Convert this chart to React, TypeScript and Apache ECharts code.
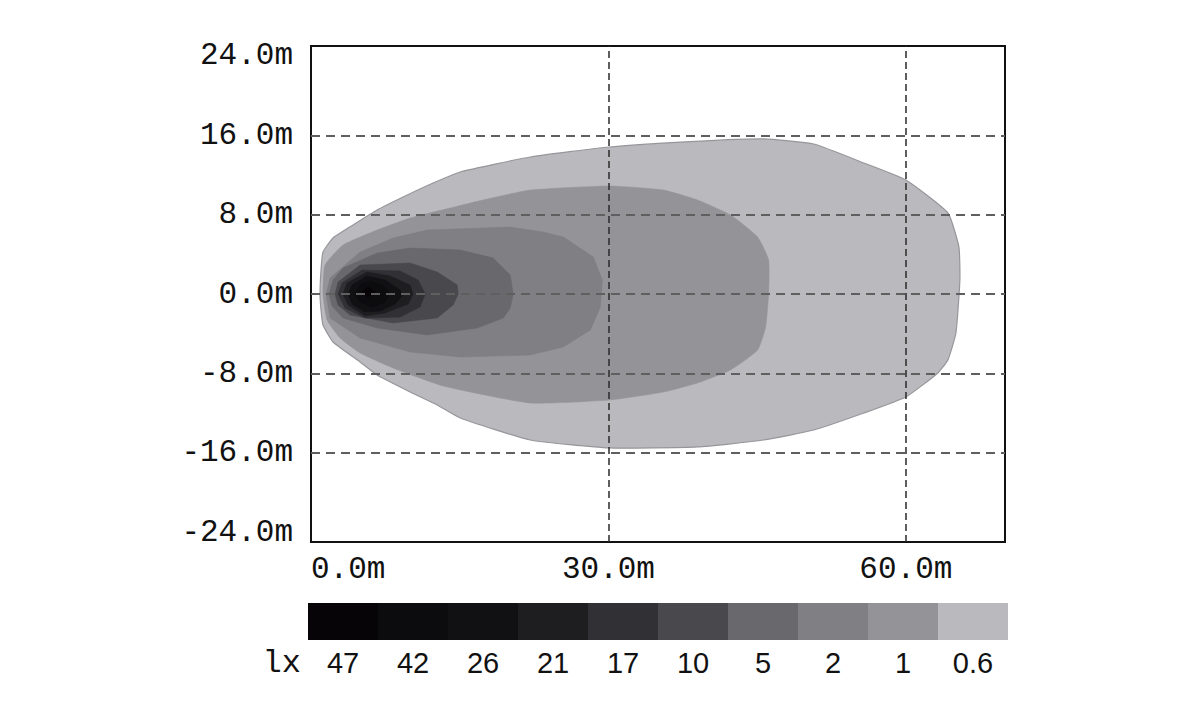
import React, { useEffect, useRef } from "react";
import * as echarts from "echarts";

// Axis ticks
const xTickValues = [0, 30, 60];
const yTickValues = [-24, -16, -8, 0, 8, 16, 24];
const gridLinesY = [-16, -8, 0, 8, 16];
const gridLinesX = [30, 60];

// Legend (colour scale)
const luxLabels = ["47", "42", "26", "21", "17", "10", "5", "2", "1", "0.6"];
const luxColors = [
  "#060406", "#0c0b0e", "#111114", "#1e1e21", "#303035",
  "#48484d", "#68686d", "#7f7f84", "#949398", "#bab9be",
];

// Isolux contours, [distance m, lateral m]
const contour06: number[][] = [
  [0.91, 0], [1.01, 2.42], [1.21, 4.23], [2.22, 5.65], [4.24, 6.96], [6.67, 8.47],
  [9.29, 9.78], [12.32, 11.19], [15.05, 12.3], [22.12, 13.81], [30.1, 14.82],
  [39.29, 15.42], [45.66, 15.63], [50.71, 15.12], [55.76, 13.21], [60.0, 11.49],
  [64.24, 8.17], [65.35, 4.74], [65.45, 1.41], [65.05, -3.93], [64.24, -6.65],
  [63.23, -7.96], [60.0, -10.38], [55.76, -12.0], [50.71, -13.71], [45.66, -14.72],
  [38.99, -15.42], [30.1, -15.52], [22.12, -14.72], [15.05, -12.5], [12.73, -11.19],
  [10.0, -9.88], [6.67, -8.17], [4.95, -6.85], [2.22, -4.84], [1.21, -3.13], [1.01, -1.61],
];
const contour1: number[][] = [
  [1.21, 0], [1.41, 2.92], [3.23, 4.94], [6.67, 6.45], [10.0, 7.66], [14.04, 8.67],
  [17.37, 9.48], [22.12, 10.48], [30.1, 10.89], [35.56, 10.48], [38.99, 9.48],
  [42.32, 7.96], [45.05, 5.75], [46.16, 3.43], [46.16, 0.1], [45.86, -3.33],
  [45.05, -5.65], [42.32, -7.66], [38.99, -8.97], [35.56, -9.88], [30.1, -10.69],
  [22.12, -10.99], [13.33, -9.27], [8.28, -7.46], [4.95, -5.95], [2.93, -4.44], [1.62, -2.62],
];
const contour2: number[][] = [
  [1.52, 0], [1.92, 1.61], [4.95, 4.23], [8.28, 5.65], [11.72, 6.45], [20.1, 6.75],
  [23.43, 6.25], [25.45, 5.75], [28.48, 3.73], [29.39, 1.41], [29.19, -1.31],
  [28.18, -3.63], [25.45, -5.34], [22.12, -6.15], [15.05, -6.35], [10.0, -5.85],
  [4.95, -4.44], [1.92, -2.42],
];
const contour5: number[][] = [
  [1.82, 0], [2.22, 1.41], [3.23, 2.62], [6.67, 4.13], [10.0, 4.64], [15.05, 4.44],
  [18.38, 3.63], [20.1, 1.92], [20.4, 0], [20.1, -1.41], [19.39, -2.42], [16.77, -3.43],
  [11.72, -4.13], [6.67, -3.43], [3.23, -2.42], [2.12, -1.21],
];
const contour10: number[][] = [
  [2.42, 0], [2.73, 1.21], [4.95, 2.92], [10.0, 3.13], [12.73, 2.22], [14.75, 0.91],
  [14.85, 0], [14.34, -1.11], [12.73, -2.42], [8.28, -2.92], [3.94, -2.12], [2.73, -1.11],
];
const contour17: number[][] = [
  [2.73, 0], [3.13, 1.11], [5.15, 2.42], [8.99, 2.32], [10.81, 1.41], [11.52, 0],
  [11.01, -1.31], [8.99, -2.32], [5.45, -2.42], [3.43, -1.41],
];
const contour21: number[][] = [
  [3.23, 0], [3.64, 1.11], [5.66, 2.22], [7.98, 1.81], [10.0, 0.91], [10.3, 0],
  [9.8, -1.01], [7.47, -1.92], [5.45, -2.22], [3.74, -1.11],
];
const contour26: number[][] = [
  [3.74, 0], [4.14, 0.91], [5.66, 1.81], [7.47, 1.41], [8.99, 0.4], [9.19, -0.2],
  [8.48, -1.01], [6.97, -1.71], [5.45, -1.81], [4.14, -1.01],
];
const contour42: number[][] = [
  [4.44, 0], [4.95, 0.91], [5.96, 1.31], [7.17, 0.91], [7.98, 0.1], [7.47, -0.81],
  [6.16, -1.31], [4.95, -0.81],
];
const contour47: number[][] = [
  [5.15, 0.2], [5.76, 0.71], [6.46, 0.2], [5.76, -0.3],
];

// outermost first (0.6 lx) to innermost (47 lx)
const contours = [contour06, contour1, contour2, contour5, contour10, contour17, contour21, contour26, contour42, contour47];
const contourColors = [...luxColors].reverse();

const MONO = "'Liberation Mono', 'DejaVu Sans Mono', monospace";

export default function App() {
  const ref = useRef<HTMLDivElement>(null);
  useEffect(() => {
    if (!ref.current) return;
    const chart = echarts.init(ref.current, null, { renderer: "svg" });
    const barLeft = 308;
    const barTop = 603;
    const boxW = 70;
    const boxH = 37;
    const legendGraphics: any[] = [];
    luxLabels.forEach((lab, i) => {
      legendGraphics.push({
        type: "rect",
        shape: { x: barLeft + i * boxW, y: barTop, width: boxW, height: boxH },
        style: { fill: luxColors[i] },
      });
      legendGraphics.push({
        type: "text",
        x: barLeft + i * boxW + boxW / 2,
        y: 663,
        style: {
          text: lab,
          fill: "#111",
          font: "29px 'Liberation Sans', Arial, sans-serif",
          align: "center",
          verticalAlign: "middle",
        },
      });
    });
    legendGraphics.push({
      type: "text",
      x: 301,
      y: 663,
      style: {
        text: "lx",
        fill: "#111",
        font: `32px ${MONO}`,
        align: "right",
        verticalAlign: "middle",
      },
    });

    chart.setOption({
      animation: false,
      backgroundColor: "#ffffff",
      grid: {
        left: 311,
        top: 46,
        width: 694,
        height: 496,
        show: true,
        borderColor: "#111",
        borderWidth: 2,
        backgroundColor: "transparent",
      },
      xAxis: {
        type: "value",
        min: 0,
        max: 70,
        axisLine: { show: false },
        axisTick: { show: false },
        splitLine: { show: false },
        axisLabel: {
          customValues: xTickValues,
          formatter: (v: number) => v.toFixed(1) + "m",
          fontFamily: MONO,
          fontSize: 31,
          color: "#111",
          margin: 12,
          alignMinLabel: "left",
        },
      },
      yAxis: {
        type: "value",
        min: -25,
        max: 25,
        axisLine: { show: false },
        axisTick: { show: false },
        splitLine: { show: false },
        axisLabel: {
          customValues: yTickValues,
          formatter: (v: number) => v.toFixed(1) + "m",
          fontFamily: MONO,
          fontSize: 31,
          color: "#111",
          margin: 18,
        },
      },
      graphic: legendGraphics,
      series: [
        {
          type: "custom",
          coordinateSystem: "cartesian2d",
          silent: true,
          z: 2,
          data: contours.map((_, i) => [i, 0]),
          renderItem: (params: any, api: any) => {
            const idx = api.value(0);
            const pts = contours[idx].map((p) => api.coord(p));
            return {
              type: "polygon",
              shape: { points: pts, smooth: idx < 2 ? 0.15 : 0 },
              style: {
                fill: contourColors[idx],
                stroke: idx === 0 ? "#96959a" : contourColors[idx],
                lineWidth: idx === 0 ? 1.2 : 0.5,
              },
            };
          },
        },
        {
          type: "line",
          data: [],
          z: 5,
          silent: true,
          markLine: {
            silent: true,
            symbol: "none",
            label: { show: false },
            emphasis: { disabled: true },
            data: [
              ...gridLinesY.map((v) => ({
                yAxis: v,
                lineStyle: { color: "#5f5f5f", width: 2, type: [9, 6] },
              })),
              ...gridLinesX.map((v) => ({
                xAxis: v,
                lineStyle: { color: "#2a2a2a", width: 1.5, type: [7, 4] },
              })),
            ],
          },
        },
      ],
    });
    return () => chart.dispose();
  }, []);
  return (
    <div
      ref={ref}
      style={{ position: "fixed", left: 0, top: 0, width: 1200, height: 720, background: "#fff" }}
    />
  );
}
